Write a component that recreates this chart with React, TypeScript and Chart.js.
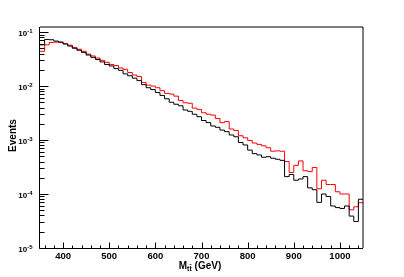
import React, { useEffect, useRef } from "react";
import { Chart, registerables } from "chart.js";

Chart.register(...registerables);

// Bin edges (GeV), 10 GeV bins
const binEdges = [
  350, 360, 370, 380, 390, 400, 410, 420, 430, 440,
  450, 460, 470, 480, 490, 500, 510, 520, 530, 540,
  550, 560, 570, 580, 590, 600, 610, 620, 630, 640,
  650, 660, 670, 680, 690, 700, 710, 720, 730, 740,
  750, 760, 770, 780, 790, 800, 810, 820, 830, 840,
  850, 860, 870, 880, 890, 900, 910, 920, 930, 940,
  950, 960, 970, 980, 990, 1000, 1010, 1020, 1030, 1040,
  1050,
];

// Black histogram contents
const blackHist = [
  0.058, 0.073, 0.072, 0.068, 0.065, 0.06, 0.055, 0.05, 0.046, 0.042,
  0.0375, 0.034, 0.031, 0.028, 0.025, 0.0235, 0.021, 0.0195, 0.0168, 0.0155,
  0.014, 0.0126, 0.0106, 0.0093, 0.0086, 0.0076, 0.0067, 0.0058, 0.005, 0.0046,
  0.0043, 0.0036, 0.0034, 0.003, 0.0027, 0.0023, 0.0021, 0.00182, 0.00172, 0.00153,
  0.00143, 0.00124, 0.00115, 0.0009, 0.00081, 0.00065, 0.00056, 0.00053, 0.00048, 0.00049,
  0.00046, 0.00044, 0.00042, 0.00021, 0.00023, 0.00018, 0.00019, 0.00021, 0.00013, 0.00012,
  0.00007, 0.0001, 0.00009, 0.00006, 0.000056, 0.000054, 0.00006, 0.000039, 0.000031, 0.00008,
];

// Red histogram contents
const redHist = [
  0.044, 0.058, 0.064, 0.065, 0.065, 0.061, 0.057, 0.052, 0.048, 0.044,
  0.039, 0.036, 0.033, 0.03, 0.0275, 0.025, 0.024, 0.0216, 0.0204, 0.0178,
  0.016, 0.015, 0.0116, 0.0104, 0.01, 0.0093, 0.0082, 0.0073, 0.0071, 0.0065,
  0.0054, 0.0049, 0.0048, 0.0039, 0.0037, 0.0032, 0.003, 0.0029, 0.0025, 0.0021,
  0.0022, 0.0016, 0.0015, 0.0012, 0.0011, 0.00098, 0.00088, 0.00083, 0.00078, 0.00072,
  0.00062, 0.00063, 0.00062, 0.0004, 0.00025, 0.00034, 0.00041, 0.00027, 0.00026, 0.00031,
  0.000125, 0.00018, 0.00015, 0.00015, 0.00011, 0.0001, 0.0001, 0.000051, 0.000058, 0.000069,
];

const xTickValues = [400, 500, 600, 700, 800, 900, 1000];
const xTickLabels = ["400", "500", "600", "700", "800", "900", "1000"];
const yDecadeValues = [1e-5, 1e-4, 1e-3, 1e-2, 1e-1];
const yDecadeExponents = ["-5", "-4", "-3", "-2", "-1"];
const yTitle = "Events";
const xTitleMain = "M";
const xTitleSub = "tt\u0304";
const xTitleUnit = " (GeV)";

const X_MIN = 350;
const X_MAX = 1050;
const Y_MIN = 1e-5;
const Y_MAX = 0.124;

function toSteps(vals: number[]) {
  const pts = vals.map((v, i) => ({ x: binEdges[i], y: v }));
  pts.push({ x: binEdges[vals.length], y: vals[vals.length - 1] });
  return pts;
}

const FONT = "'Liberation Sans', Arial, Helvetica, sans-serif";

const rootFramePlugin = {
  id: "rootFrame",
  afterDatasetsDraw(chart: any) {
    const { ctx, chartArea: a, scales } = chart;
    const xs = scales.x;
    const ys = scales.y;
    ctx.save();
    ctx.strokeStyle = "#000";
    ctx.lineWidth = 1;

    // top and right frame (soft)
    ctx.beginPath();
    ctx.moveTo(a.left, a.top);
    ctx.lineTo(a.right, a.top);
    ctx.lineTo(a.right, a.bottom);
    ctx.stroke();

    // left and bottom axes (crisp)
    const L = a.left - 0.5;
    const B = a.bottom + 0.5;
    ctx.beginPath();
    ctx.moveTo(L, a.top);
    ctx.lineTo(L, B);
    ctx.lineTo(a.right, B);
    ctx.stroke();

    // y ticks (inward)
    ctx.beginPath();
    for (let d = -5; d <= -1; d++) {
      for (let m = 1; m <= 9; m++) {
        const v = m * Math.pow(10, d);
        if (v > ys.max * 1.0001) break;
        const py = Math.round(ys.getPixelForValue(v)) + 0.5;
        const len = m === 1 ? 9 : 5;
        ctx.moveTo(L, py);
        ctx.lineTo(L + len, py);
      }
    }
    // x ticks (inward)
    for (let v = 360; v < X_MAX; v += 20) {
      const px = Math.round(xs.getPixelForValue(v)) + 0.5;
      const len = v % 100 === 0 ? 6 : 3;
      ctx.moveTo(px, B);
      ctx.lineTo(px, B - len);
    }
    ctx.stroke();

    ctx.fillStyle = "#000";
    // x labels
    ctx.font = `bold 9.5px ${FONT}`;
    ctx.textAlign = "center";
    ctx.textBaseline = "alphabetic";
    xTickValues.forEach((v, i) => {
      ctx.fillText(xTickLabels[i], xs.getPixelForValue(v), 258.5);
    });

    // y labels 10^n
    yDecadeValues.forEach((v, i) => {
      const py = ys.getPixelForValue(v);
      ctx.font = `bold 6px ${FONT}`;
      ctx.textAlign = "right";
      ctx.fillText(yDecadeExponents[i], 32.5, py + 0.8);
      const ew = ctx.measureText(yDecadeExponents[i]).width;
      ctx.font = `bold 8px ${FONT}`;
      ctx.fillText("10", 32.5 - ew, py + 3.8);
    });

    // y title
    ctx.save();
    ctx.translate(13.5, 135.5);
    ctx.rotate(-Math.PI / 2);
    ctx.font = `bold 10px ${FONT}`;
    ctx.textAlign = "center";
    ctx.textBaseline = "middle";
    ctx.fillText(yTitle, 0, 0);
    ctx.restore();

    // x title
    ctx.textAlign = "left";
    ctx.font = `bold 10px ${FONT}`;
    const wM = ctx.measureText(xTitleMain).width;
    const wU = ctx.measureText(xTitleUnit).width;
    ctx.font = `bold 7px ${FONT}`;
    const wS = ctx.measureText(xTitleSub).width;
    const total = wM + wS + wU;
    let x0 = 200 - total / 2;
    ctx.font = `bold 10px ${FONT}`;
    ctx.fillText(xTitleMain, x0, 268.5);
    x0 += wM;
    ctx.font = `bold 7px ${FONT}`;
    ctx.fillText(xTitleSub, x0, 271);
    x0 += wS;
    ctx.font = `bold 10px ${FONT}`;
    ctx.fillText(xTitleUnit, x0, 268.5);

    ctx.restore();
  },
};

export default function App() {
  const canvasRef = useRef<HTMLCanvasElement | null>(null);

  useEffect(() => {
    const canvas = canvasRef.current;
    if (!canvas) return;
    const chart = new Chart(canvas, {
      type: "line",
      data: {
        datasets: [
          {
            label: "black",
            data: toSteps(blackHist),
            borderColor: "#000000",
            borderWidth: 1,
            pointRadius: 0,
            stepped: "before",
            fill: false,
          },
          {
            label: "red",
            data: toSteps(redHist),
            borderColor: "#ff0000",
            borderWidth: 1,
            pointRadius: 0,
            stepped: "before",
            fill: false,
          },
        ],
      },
      options: {
        animation: false,
        responsive: false,
        maintainAspectRatio: false,
        devicePixelRatio: 1,
        layout: { padding: { left: 40, top: 27, right: 41, bottom: 29 } },
        plugins: {
          legend: { display: false },
          tooltip: { enabled: false },
          title: { display: false },
        },
        events: [],
        scales: {
          x: { type: "linear", min: X_MIN, max: X_MAX, display: false },
          y: { type: "logarithmic", min: Y_MIN, max: Y_MAX, display: false },
        },
      },
      plugins: [rootFramePlugin],
    } as any);
    return () => chart.destroy();
  }, []);

  return (
    <div
      style={{
        position: "fixed",
        left: 0,
        top: 0,
        width: 404,
        height: 277,
        background: "#fff",
      }}
    >
      <canvas
        ref={canvasRef}
        width={404}
        height={277}
        style={{ width: 404, height: 277, display: "block" }}
      />
    </div>
  );
}
